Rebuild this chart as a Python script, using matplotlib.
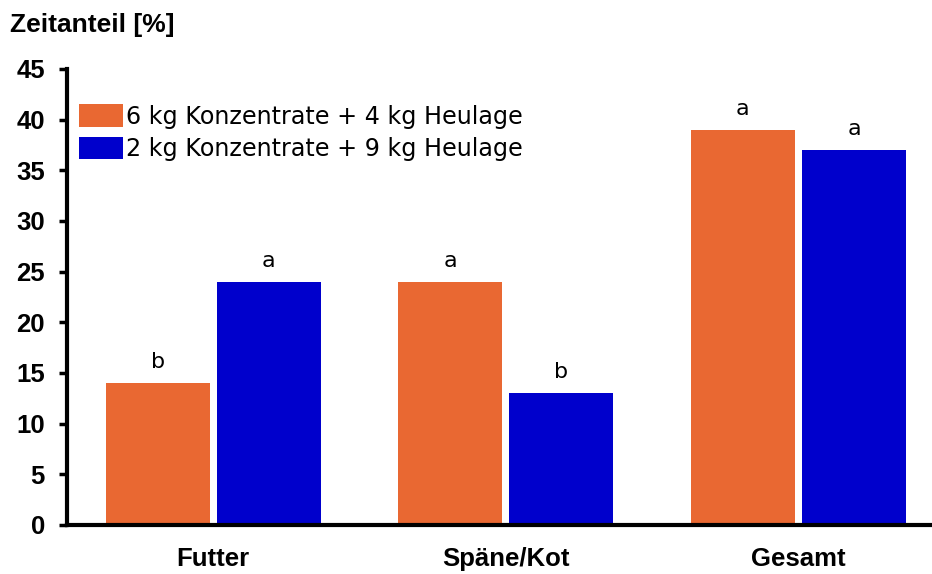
import matplotlib
matplotlib.use("Agg")
import matplotlib.pyplot as plt
import numpy as np

categories = ["Futter", "Späne/Kot", "Gesamt"]
series_names = ["6 kg Konzentrate + 4 kg Heulage", "2 kg Konzentrate + 9 kg Heulage"]
high_conc = [14, 24, 39]
low_conc = [24, 13, 37]
high_letters = ["b", "a", "a"]
low_letters = ["a", "b", "a"]
colors = ["#E96832", "#0000CC"]

bold = {"family": "Liberation Sans", "weight": "bold"}

fig = plt.figure(figsize=(9.32, 5.74), dpi=100)
ax = fig.add_axes([67 / 932, 49 / 574, 863 / 932, 456 / 574])

x = np.arange(len(categories))
w = 0.355
off = 0.19
groups = [(high_conc, high_letters, -off), (low_conc, low_letters, off)]
for (vals, letters, dx), color, name in zip(groups, colors, series_names):
    bars = ax.bar(x + dx, vals, width=w, color=color, label=name, zorder=2)
    for b, v, t in zip(bars, vals, letters):
        ax.annotate(t, (b.get_x() + b.get_width() / 2, v), xytext=(0, 8),
                    textcoords="offset points", ha="center", va="bottom",
                    fontsize=16, family="DejaVu Sans")

ax.set_xlim(-0.5, 2.45)
ax.set_ylim(0, 45)
ax.set_yticks(np.arange(0, 46, 5))
ax.set_xticks(x)
ax.set_xticklabels(categories, fontdict=bold, fontsize=18.5)
for lab in ax.get_yticklabels():
    lab.set_fontproperties(matplotlib.font_manager.FontProperties(**bold, size=18.5))

for s in ["top", "right"]:
    ax.spines[s].set_visible(False)
for s in ["left", "bottom"]:
    ax.spines[s].set_linewidth(3)
ax.tick_params(axis="y", length=6, width=2.5, pad=10)
ax.tick_params(axis="x", length=0, pad=16)

ax.legend(loc="upper left", bbox_to_anchor=(-0.008, 0.965), frameon=False,
          prop={"family": "DejaVu Sans", "size": 17.2}, handlelength=1.85,
          handleheight=1.1, handletextpad=0.1, labelspacing=0.33,
          borderaxespad=0.45, borderpad=0.35)

fig.text(10 / 932, 1 - 25 / 574, "Zeitanteil [%]", ha="left", va="center",
         fontsize=19, **bold)

fig.savefig("out.png", dpi=100)
